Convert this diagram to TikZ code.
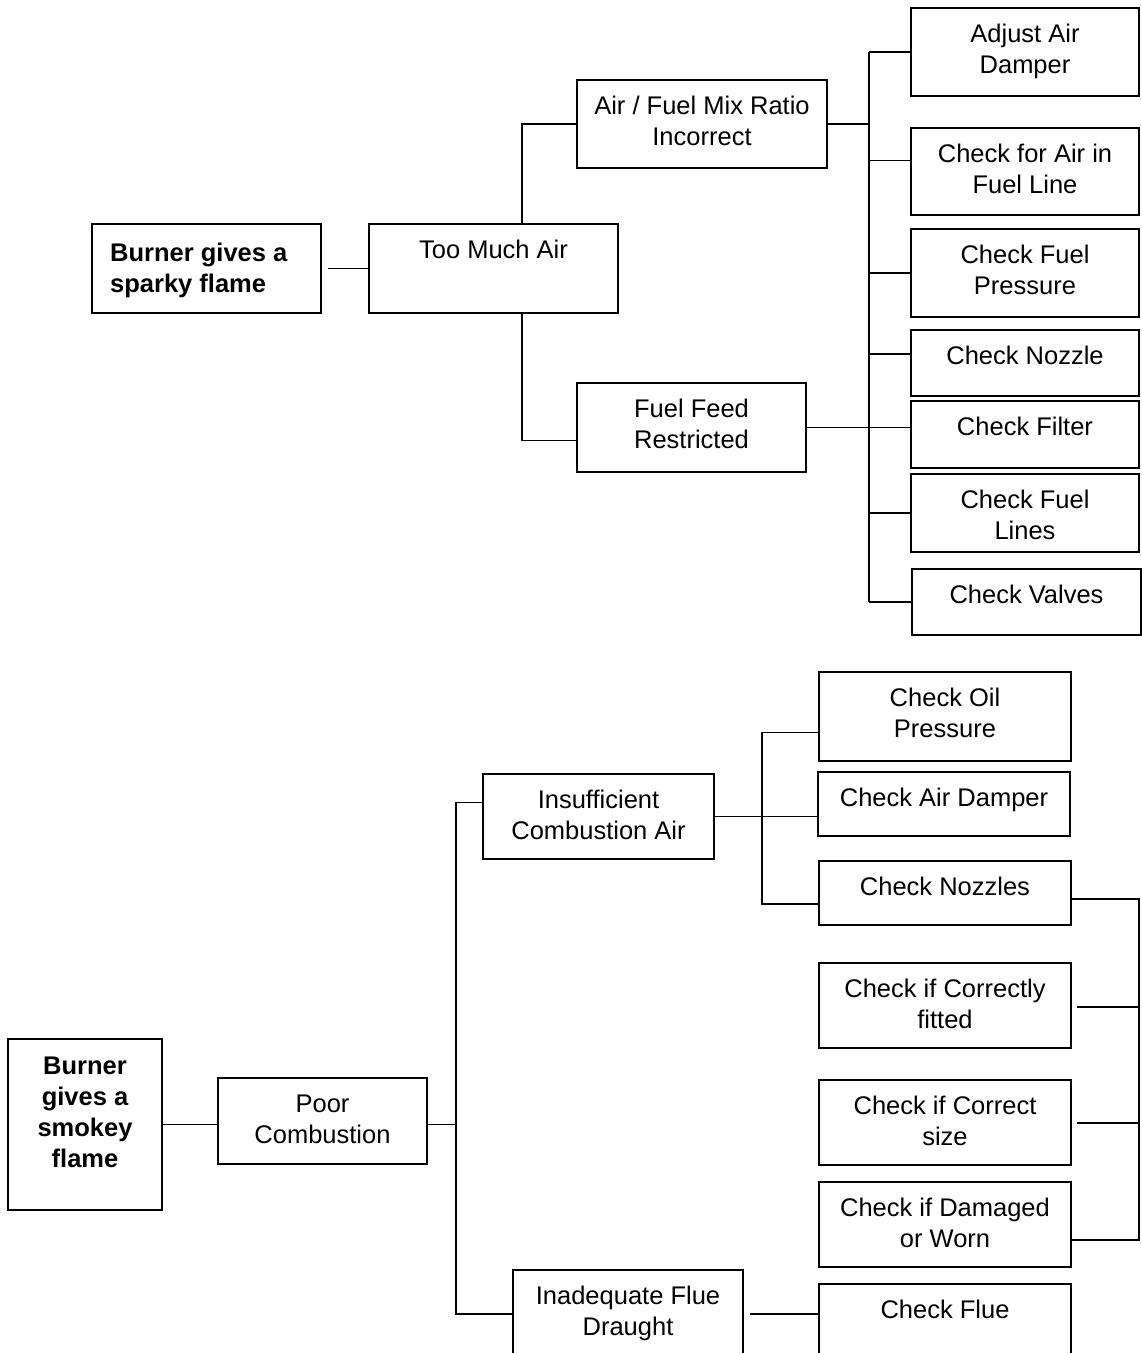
\documentclass[tikz,border=0pt]{standalone}
\usepackage{fontspec}
\setmainfont{Liberation Sans}
\usetikzlibrary{calc}
\tikzset{
  boxst/.style={draw=black, line width=1.8pt, rectangle, inner sep=0pt, outer sep=0pt},
  txt/.style={font=\fontsize{25.5}{31}\selectfont, align=center, inner sep=0pt},
  bld/.style={font=\fontsize{25.5}{31}\selectfont\bfseries, inner sep=0pt},
  conn/.style={line width=1.8pt},
}
% name, x1, y1, x2, y2, number of lines, text
\newcommand\mybox[7]{%
  \node[boxst, anchor=north west, minimum width={(#4)-(#2)}, minimum height={(#5)-(#3)}] (#1) at (#2,#3) {};
  \node[txt, anchor=base] (#1t) at ($(#1.north)+(0,{34+31*(#6-1)})$) {#7};
}
\begin{document}
\begin{tikzpicture}[x=1pt,y=-1pt]
\useasboundingbox (0,0) rectangle (1142,1353);
\fill[white] (0,0) rectangle (1142,1353);
\clip (0,0) rectangle (1142,1353);

% ---------- top tree ----------
\node[boxst, anchor=north west, minimum width=229, minimum height=89] (B1) at (92,224) {};
\node[bld, align=left, anchor=base west] (B1t) at (110,292) {Burner gives a\\sparky flame};
\mybox{TMA}{369}{224}{618}{313}{1}{Too Much Air}
\mybox{AFM}{577}{80}{827}{168}{2}{Air / Fuel Mix Ratio\\Incorrect}
\mybox{FFR}{577}{383}{806}{472}{2}{Fuel Feed\\Restricted}
\mybox{AAD}{911}{8}{1139}{96}{2}{Adjust Air\\Damper}
\mybox{CFA}{911}{128}{1139}{215}{2}{Check for Air in\\Fuel Line}
\mybox{CFP}{911}{229}{1139}{317}{2}{Check Fuel\\Pressure}
\mybox{CN}{911}{330}{1139}{396}{1}{Check Nozzle}
\mybox{CF}{911}{401}{1139}{468}{1}{Check Filter}
\mybox{CFL}{911}{474}{1139}{552}{2}{Check Fuel\\Lines}
\mybox{CV}{912}{569}{1141}{635}{1}{Check Valves}

\coordinate (jA) at (522,0);
\coordinate (jB) at (869,0);

\draw[conn] ($(B1.east)+(7,0)$) -- (TMA.west);
\draw[conn] (jA |- TMA.north) |- (AFM.west);
\draw[conn] (jA |- TMA.south) |- ($(FFR.west)+(0,13)$);
\draw[conn] (AFM.east) -- (AFM.east -| jB);
\draw[conn] (FFR.east) -- (FFR.east -| CF.west);
\draw[conn] (jB |- AAD.west) -- (jB |- CV.west);
\draw[conn] (jB |- AAD.west) -- (AAD.west);
\draw[conn] ($(CFA.west)+(0,-11)$) coordinate (c1) -- (c1 -| jB);
\draw[conn] (CFP.west) -- (CFP.west -| jB);
\draw[conn] ($(CN.west)+(0,-9)$) coordinate (c2) -- (c2 -| jB);
\draw[conn] (CFL.west) -- (CFL.west -| jB);
\draw[conn] (CV.west) -- (CV.west -| jB);

% ---------- bottom tree ----------
\node[boxst, anchor=north west, minimum width=154, minimum height=171] (B2) at (8,1039) {};
\node[bld, align=center, anchor=base] (B2t) at ($(B2.north)+(0,128)$) {Burner\\gives a\\smokey\\flame};
\mybox{PC}{218}{1078}{427}{1164}{2}{Poor\\Combustion}
\mybox{ICA}{483}{774}{714}{859}{2}{Insufficient\\Combustion Air}
\mybox{IFD}{513}{1270}{743}{1375}{2}{Inadequate Flue\\Draught}
\mybox{COP}{819}{672}{1071}{761}{2}{Check Oil\\Pressure}
\mybox{CAD}{818}{772}{1070}{836}{1}{Check Air Damper}
\mybox{CNz}{819}{861}{1071}{925}{1}{Check Nozzles}
\mybox{CCF}{819}{963}{1071}{1048}{2}{Check if Correctly\\fitted}
\mybox{CCS}{819}{1080}{1071}{1165}{2}{Check if Correct\\size}
\mybox{CDW}{819}{1182}{1071}{1267}{2}{Check if Damaged\\or Worn}
\mybox{CFl}{819}{1284}{1071}{1375}{1}{Check Flue}

\coordinate (jC) at (456,0);
\coordinate (jD) at (762,0);
\coordinate (jE) at (1139,0);

\draw[conn] (B2.east) -- (B2.east -| PC.west);
\draw[conn] (PC.east |- B2.east) -- (jC |- B2.east);
\coordinate (c3) at ($(ICA.west)+(0,-14)$);
\coordinate (c4) at ($(IFD.west)+(0,-8.5)$);
\draw[conn] (c3) -- (c3 -| jC) -- (jC |- c4) -- (c4);

\draw[conn] (ICA.east) -- (ICA.east -| CAD.west);
\coordinate (c5) at ($(COP.west)+(0,16)$);
\coordinate (c6) at ($(CNz.west)+(0,11)$);
\draw[conn] (c5) -- (c5 -| jD) -- (jD |- c6) -- (c6);

\coordinate (c7) at ($(CNz.east)+(0,6)$);
\coordinate (c8) at ($(CDW.east)+(0,15.5)$);
\draw[conn] (c7) -- (c7 -| jE) -- (jE |- c8) -- (c8);
\draw[conn] ($(CCF.east)+(6,1.5)$) coordinate (c9) -- (c9 -| jE);
\draw[conn] ($(CCS.east)+(6,0.5)$) coordinate (c10) -- (c10 -| jE);

\draw[conn] ($(IFD.east)+(7,-8.5)$) coordinate (c11) -- (c11 -| CFl.west);
\end{tikzpicture}
\end{document}
